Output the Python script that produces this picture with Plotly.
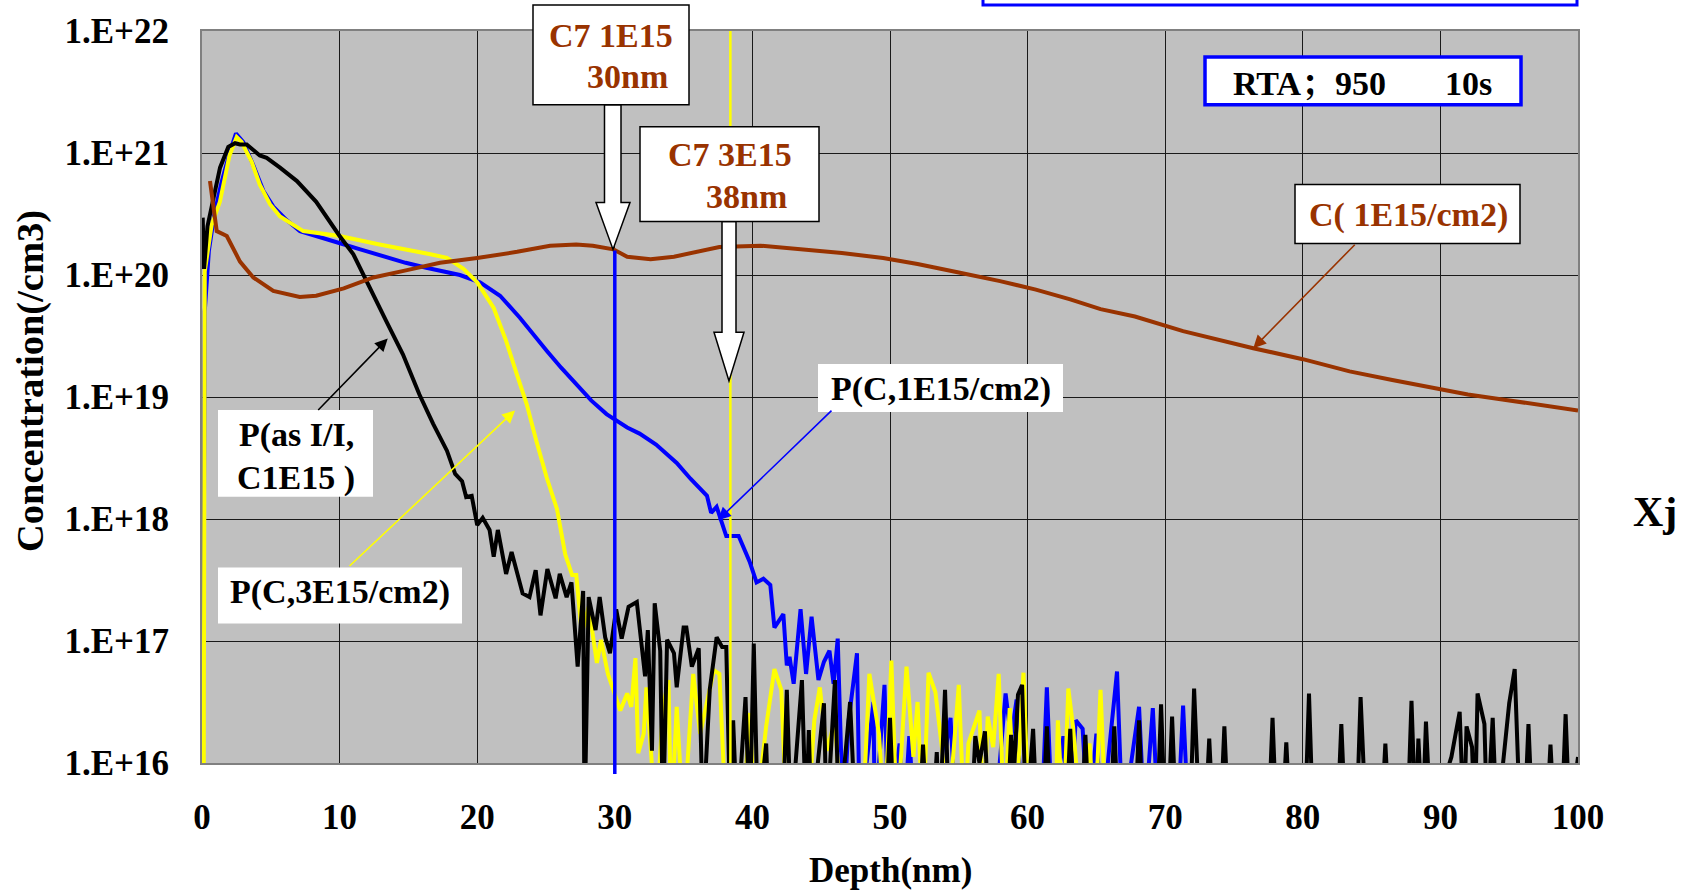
import plotly.graph_objects as go

# ---------------- canvas / layout helpers ----------------
W, H = 1686, 894
L, R, T, B = 202, 108, 29, 131
PW, PH = W - L - R, H - T - B


def fx(p):
    return (p - L) / PW


def fy(p):
    return (H - B - p) / PH


FONT = "Liberation Serif, Times New Roman, Noto Serif CJK SC, Noto Sans CJK SC, serif"
BROWN = "#993300"
BLUE = "#0000FF"
YELLOW = "#FFFF00"
BLACK = "#000000"

# ---------------- data (depth in nm, log10 of concentration /cm3) ----------------
# values at 15.5 mean "below detection" (drawn off the bottom of the chart)
c_1e15_depth = [0.58, 1.07, 1.8, 2.76, 3.73, 5.18, 7.1, 8.3, 10.3, 12.45, 14.9, 17.3, 20.0,
                22.9, 25.3, 27.2, 28.4, 29.9, 30.9, 32.6, 34.3, 36.2, 37.6, 40.6, 43.9, 46.5,
                49.5, 52.0, 55.0, 58.0, 60.6, 63.1, 65.3, 67.8, 71.3, 73.8, 76.4, 80.0, 83.4,
                86.5, 89.8, 92.0, 94.5, 97.7, 100.0]
c_1e15_log = [20.77, 20.36, 20.32, 20.11, 19.98, 19.87, 19.82, 19.83, 19.89, 19.98, 20.04, 20.10, 20.14,
              20.19, 20.24, 20.25, 20.24, 20.21, 20.15, 20.13, 20.15, 20.20, 20.23, 20.24, 20.21, 20.18,
              20.14, 20.09, 20.02, 19.95, 19.88, 19.80, 19.72, 19.66, 19.54, 19.47, 19.40, 19.31, 19.21,
              19.14, 19.07, 19.02, 18.98, 18.93, 18.89]

p_c1e15_depth = [0.05, 0.2, 0.5, 0.9, 1.4, 2.0, 2.47, 3.0, 3.73, 4.46, 5.18, 6.15, 7.12, 8.5, 10.03,
                 11.5, 13.2, 14.8, 16.3, 17.5, 18.75, 20.2, 21.66, 23.1, 24.0, 25.05, 26.1, 27.2,
                 28.3, 29.4, 30.9, 31.8, 33.0, 34.5, 35.5, 36.7, 37.0, 37.4, 38.1, 39.0, 39.8, 40.3,
                 40.8, 41.3, 41.6, 42.25, 42.5, 42.7, 43.0, 43.5, 43.9, 44.3, 44.8, 45.2, 45.6, 45.9,
                 46.2, 46.6, 47.0, 47.6, 47.8, 48.8, 48.9, 49.6, 49.9, 50.7, 51.0, 51.4, 51.8, 53.2,
                 54.4, 54.8, 57.6, 58.4, 58.8, 59.2, 59.6, 61.0, 61.4, 61.8, 62.6, 63.0, 63.5, 64.0,
                 64.4, 65.0, 65.4, 65.9, 66.5, 66.9, 67.6, 68.1, 68.5, 69.1, 69.5, 70.9, 71.3, 71.7]
p_c1e15_log = [15.5, 19.7, 20.2, 20.5, 20.75, 21.0, 21.16, 21.09, 20.90, 20.69, 20.56, 20.45, 20.36, 20.31, 20.26,
               20.21, 20.15, 20.10, 20.06, 20.03, 20.00, 19.94, 19.83, 19.65, 19.52, 19.38, 19.24, 19.10,
               18.97, 18.86, 18.75, 18.70, 18.61, 18.46, 18.33, 18.19, 18.05, 18.10, 17.86, 17.86, 17.65, 17.48,
               17.51, 17.46, 17.11, 17.22, 16.80, 16.87, 16.65, 17.26, 16.73, 17.20, 16.68, 16.83, 16.92, 16.65,
               17.02, 15.5, 16.35, 16.90, 15.5, 16.50, 15.5, 16.64, 15.5, 16.16, 15.5, 16.22, 15.5, 15.5,
               16.37, 15.5, 15.5, 16.57, 16.20, 16.52, 15.5, 15.5, 16.62, 15.5, 16.22, 15.5, 16.35, 16.28,
               15.5, 16.24, 15.5, 16.08, 16.75, 15.5, 16.09, 16.46, 15.5, 16.45, 15.5, 15.5, 16.47, 15.5]

p_c3e15_depth = [0.12, 0.2, 0.7, 1.3, 2.0, 2.52, 2.88, 3.6, 4.2, 4.94, 5.67, 6.64, 7.36, 10.0, 12.9,
                 16.6, 17.8, 19.0, 20.0, 21.2, 22.1, 22.9, 23.6, 24.3, 25.05, 25.8, 26.4, 26.9, 27.2,
                 27.6, 28.1, 28.7, 29.0, 29.5, 30.4, 30.9, 31.2, 31.5, 31.7, 32.1, 32.3, 33.0, 33.5,
                 33.9, 34.1, 34.5, 35.0, 35.7, 36.2, 36.7, 37.2, 37.6, 38.1, 39.3, 39.8, 40.2, 41.0,
                 41.6, 42.1, 42.5, 44.0, 44.5, 44.9, 45.4, 46.0, 46.5, 48.0, 48.5, 49.2, 49.6, 50.1,
                 50.5, 51.2, 51.7, 52.0, 52.4, 52.8, 53.3, 53.8, 54.2, 55.0, 55.4, 55.7, 56.5, 56.8,
                 57.1, 57.5, 57.9, 58.3, 58.7, 59.1, 59.7, 60.1, 62.0, 62.2, 62.6, 62.96, 63.3, 63.9,
                 64.5, 64.9, 65.3, 65.7]
p_c3e15_log = [15.5, 20.03, 20.41, 20.60, 20.98, 21.13, 21.09, 20.93, 20.74, 20.58, 20.48, 20.41, 20.36, 20.32, 20.25,
               20.17, 20.14, 20.05, 19.94, 19.73, 19.46, 19.18, 18.94, 18.64, 18.34, 18.08, 17.71, 17.54, 17.54,
               17.06, 17.28, 16.82, 17.01, 16.73, 16.43, 16.57, 16.46, 16.86, 16.08, 16.24, 16.62, 15.5, 16.46,
               16.68, 15.5, 16.46, 15.5, 16.73, 16.24, 16.50, 16.76, 16.73, 15.5, 15.5, 16.41, 15.5, 16.30,
               16.77, 16.60, 15.5, 15.5, 16.35, 16.62, 16.10, 16.35, 15.5, 15.5, 16.73, 16.24, 15.5, 16.84,
               15.5, 16.79, 16.05, 16.50, 15.5, 16.74, 16.58, 16.10, 15.5, 16.64, 15.5, 16.16, 16.43, 15.5,
               16.38, 16.13, 16.73, 15.5, 16.45, 15.5, 16.74, 15.5, 15.5, 16.35, 15.5, 16.61, 16.30, 15.5,
               16.16, 15.5, 16.60, 15.5]

p_asii_depth = [0.05, 0.15, 0.4, 0.83, 1.31, 1.91, 2.4, 2.76, 3.25, 4.2, 4.7, 5.67, 6.9, 8.3, 9.4,
                10.0, 11.0, 12.2, 13.4, 14.6, 15.8, 16.8, 17.8, 18.4, 18.9, 19.2, 19.6, 20.0, 20.4,
                20.9, 21.2, 21.5, 22.1, 22.5, 23.3, 23.8, 24.25, 24.6, 25.1, 25.7, 26.0, 26.5, 26.85,
                27.3, 27.7, 27.8, 28.1, 28.6, 28.9, 29.3, 29.65, 30.1, 30.5, 31.0, 31.6, 32.2, 32.4,
                32.7, 32.9, 33.3, 33.5, 33.8, 34.3, 34.5, 35.0, 35.2, 35.6, 36.1, 36.4, 36.9, 37.4,
                37.8, 38.1, 38.4, 38.6, 38.9, 39.5, 39.8, 40.1, 40.4, 41.0, 41.2, 42.2, 42.5, 42.8,
                43.6, 43.9, 44.1, 44.3, 45.2, 45.4, 46.0, 46.3, 47.1, 47.5, 49.7, 50.0, 50.3, 52.1,
                52.4, 52.7, 53.1, 53.4, 53.6, 54.0, 54.3, 55.9, 56.2, 56.5, 56.9, 57.2, 58.5, 58.8,
                59.0, 59.3, 59.6, 59.9, 60.4, 60.7, 61.1, 61.4, 61.7, 62.8, 63.1, 63.4, 63.9, 64.2,
                64.5, 66.0, 66.3, 66.6, 67.8, 68.1, 68.4, 69.4, 69.7, 70.0, 70.2, 70.5, 70.8, 71.8,
                72.1, 72.5, 72.9, 73.2, 73.5, 74.0, 74.3, 74.6, 77.5, 77.8, 78.1, 78.5, 78.8, 79.1,
                80.15, 80.45, 80.75, 82.5, 82.8, 83.1, 83.9, 84.2, 84.6, 85.7, 86.0, 86.3, 87.6, 87.9,
                88.2, 88.4, 88.7, 88.95, 89.3, 90.8, 91.4, 91.7, 91.9, 92.3, 92.5, 92.7, 93.2, 93.4,
                93.8, 94.1, 95.0, 95.4, 95.8, 96.1, 96.4, 96.7, 97.7, 98.0, 98.3, 98.8, 99.1, 99.4, 100.0]
p_asii_log = [20.47, 20.05, 20.40, 20.63, 20.88, 21.05, 21.08, 21.07, 21.07, 20.98, 20.96, 20.88, 20.77, 20.60, 20.41,
              20.32, 20.17, 19.89, 19.62, 19.35, 19.02, 18.78, 18.56, 18.37, 18.31, 18.18, 18.19, 17.95, 18.01,
              17.91, 17.69, 17.91, 17.55, 17.73, 17.39, 17.36, 17.58, 17.21, 17.59, 17.35, 17.55, 17.36, 17.48,
              16.79, 17.41, 15.5, 17.36, 17.09, 17.36, 17.03, 16.90, 17.26, 17.02, 17.28, 17.32, 16.71, 17.09,
              16.10, 17.31, 16.92, 15.5, 17.01, 16.90, 16.62, 17.11, 17.11, 16.79, 16.94, 15.5, 16.60, 17.03,
              16.95, 16.95, 15.5, 16.35, 15.5, 16.54, 15.5, 16.98, 15.5, 16.16, 15.5, 15.5, 16.60, 15.5,
              16.68, 15.5, 16.27, 15.5, 16.49, 15.5, 16.68, 15.5, 16.50, 15.5, 15.5, 16.37, 15.5, 15.5,
              16.15, 15.5, 15.5, 16.09, 15.5, 16.60, 15.5, 15.5, 16.22, 16.0, 16.26, 15.5, 15.5, 16.23,
              15.9, 16.56, 16.64, 15.5, 16.28, 15.5, 15.5, 16.30, 15.5, 15.5, 16.28, 15.5, 15.5, 16.23,
              15.5, 15.5, 16.30, 15.5, 15.5, 16.35, 15.5, 15.5, 16.48, 15.5, 15.5, 16.38, 15.5, 15.5,
              16.61, 15.5, 15.5, 16.20, 15.5, 15.5, 16.30, 15.5, 15.5, 16.37, 15.5, 15.5, 16.17, 15.5,
              15.5, 16.57, 15.5, 15.5, 16.32, 15.5, 15.5, 16.54, 15.5, 15.5, 16.16, 15.5, 15.5, 16.51,
              15.5, 16.20, 15.5, 16.34, 15.5, 16.05, 16.42, 15.5, 16.30, 16.13, 15.5, 16.57, 16.32, 15.5,
              16.37, 15.5, 16.49, 16.77, 15.5, 15.5, 16.32, 15.5, 15.5, 16.15, 15.5, 15.5, 16.40, 15.5, 16.05]

x_ticks = [0, 10, 20, 30, 40, 50, 60, 70, 80, 90, 100]
y_tick_exps = [16, 17, 18, 19, 20, 21, 22]
y_tick_text = ["1.E+16", "1.E+17", "1.E+18", "1.E+19", "1.E+20", "1.E+21", "1.E+22"]

xj_30nm = 30.0     # C7 1E15 junction depth
xj_38nm = 38.4     # C7 3E15 junction depth
xj_30_level = 20.20

# annotation arrow tips (depth, log10 conc)
tip_asii = (13.5, 19.48)
tip_c3e15 = (22.75, 18.89)
tip_c1e15 = (37.5, 17.99)
tip_carbon = (76.4, 19.40)


def conc(logs):
    return [10.0 ** v for v in logs]


LW = 4
fig = go.Figure()
fig.add_trace(go.Scatter(x=p_c1e15_depth, y=conc(p_c1e15_log), mode="lines",
                         line=dict(color=BLUE, width=LW), name="P(C,1E15/cm2)"))
fig.add_trace(go.Scatter(x=p_c3e15_depth, y=conc(p_c3e15_log), mode="lines",
                         line=dict(color=YELLOW, width=LW), name="P(C,3E15/cm2)"))
fig.add_trace(go.Scatter(x=p_asii_depth, y=conc(p_asii_log), mode="lines",
                         line=dict(color=BLACK, width=LW), name="P(as I/I, C1E15)"))
fig.add_trace(go.Scatter(x=c_1e15_depth, y=conc(c_1e15_log), mode="lines",
                         line=dict(color=BROWN, width=LW), name="C(1E15/cm2)"))

shapes = []
# yellow vertical line at 38 nm
shapes.append(dict(type="line", xref="x", yref="paper", x0=xj_38nm, x1=xj_38nm, y0=0, y1=1,
                   line=dict(color=YELLOW, width=2.5)))
# blue vertical line at 30 nm (extends slightly below axis)
shapes.append(dict(type="line", xref="x", yref="paper", x0=xj_30nm, x1=xj_30nm,
                   y0=fy(774), y1=(xj_30_level - 16) / 6,
                   line=dict(color=BLUE, width=3.5)))


def block_arrow(shaft_l, shaft_r, top, neck, head_l, head_r, tip_x, tip_y):
    pts = [(shaft_l, top), (shaft_r, top), (shaft_r, neck), (head_r, neck), (tip_x, tip_y),
           (head_l, neck), (shaft_l, neck)]
    path = "M " + " L ".join(f"{fx(a):.5f},{fy(b):.5f}" for a, b in pts) + " Z"
    return dict(type="path", xref="paper", yref="paper", path=path,
                fillcolor="white", line=dict(color="black", width=1.5))


shapes.append(block_arrow(604.5, 621, 103, 201, 596, 630, 613, 248))
shapes.append(block_arrow(722, 736, 220, 331, 714, 744, 729, 380))


def box(x0, y0, x1, y1, color="black", width=1.5, border=True):
    return dict(type="rect", xref="paper", yref="paper", x0=fx(x0), x1=fx(x1), y0=fy(y1), y1=fy(y0),
                fillcolor="white",
                line=dict(color=color if border else "rgba(0,0,0,0)", width=width if border else 0))


shapes += [
    box(983, -20, 1577, 3, color=BLUE, width=3),
    box(533, 3, 689, 103),
    box(640, 125, 819, 220),
    box(1205, 55, 1521, 103, color=BLUE, width=3.5),
    box(1295, 183, 1520, 242),
    box(818, 363, 1063, 411, border=False),
    box(218, 409, 373, 496, border=False),
    box(218, 567, 462, 623, border=False),
]

annotations = []


def label(text, cx, cy, color="black", size=34, xanchor="center"):
    annotations.append(dict(text=text, xref="paper", yref="paper", x=fx(cx), y=fy(cy),
                            xanchor=xanchor, yanchor="middle", showarrow=False,
                            font=dict(family=FONT, size=size, color=color, weight="bold")))


def pointer(tip, ax, ay, color):
    annotations.append(dict(text="", x=tip[0], y=tip[1], xref="x", yref="y", ax=ax, ay=ay,
                            showarrow=True, arrowhead=2, arrowsize=1.6, arrowwidth=1.6,
                            arrowcolor=color, standoff=0, startstandoff=0))


label("C7 1E15", 611, 34, BROWN)
label("30nm", 627, 75, BROWN)
label("C7 3E15", 730, 153, BROWN)
label("38nm", 746, 195, BROWN)
label("RTA；950", 1231, 82, xanchor="left")
label("10s", 1494, 82, xanchor="right")
label("C( 1E15/cm2)", 1408, 214, BROWN)
label("P(C,1E15/cm2)", 941, 388)
label("P(as I/I,", 296, 434)
label("C1E15 )", 296, 477)
label("P(C,3E15/cm2)", 340, 592)
label("Xj", 1655, 511, size=42)
label("Depth(nm)", 890, 871, size=35)
annotations.append(dict(text="Concentration(/cm3)", xref="paper", yref="paper", x=fx(30), y=fy(380),
                        xanchor="center", yanchor="middle", showarrow=False, textangle=-90,
                        font=dict(family=FONT, size=38.5, color="black", weight="bold")))

pointer(tip_asii, -71, 73, BLACK)
pointer(tip_c3e15, -167, 157, YELLOW)
pointer(tip_c1e15, 115, -111, BLUE)
pointer(tip_carbon, 103, -105, BROWN)

fig.update_layout(
    width=W, height=H,
    margin=dict(l=L, r=R, t=T, b=B, pad=0),
    paper_bgcolor="white",
    plot_bgcolor="#C0C0C0",
    showlegend=False,
    shapes=shapes,
    annotations=annotations,
    font=dict(family=FONT, color="black"),
)
fig.update_xaxes(range=[0, 100], tickvals=x_ticks, ticktext=[str(v) for v in x_ticks],
                 showgrid=True, gridcolor="#1a1a1a", gridwidth=1, zeroline=False,
                 showline=True, linecolor="#808080", linewidth=2, mirror=True,
                 ticks="", ticklabelstandoff=22,
                 tickfont=dict(family=FONT, size=35, color="black", weight="bold"))
fig.update_yaxes(type="log", range=[16, 22], tickvals=[10.0 ** e for e in y_tick_exps], ticktext=y_tick_text,
                 showgrid=True, gridcolor="#1a1a1a", gridwidth=1, zeroline=False,
                 showline=True, linecolor="#808080", linewidth=2, mirror=True,
                 ticks="", ticklabelstandoff=24,
                 tickfont=dict(family=FONT, size=35, color="black", weight="bold"))

fig.write_html("out.html")
